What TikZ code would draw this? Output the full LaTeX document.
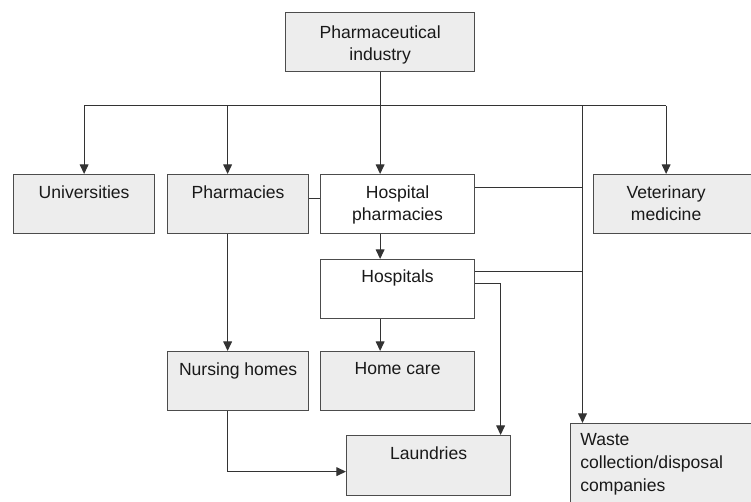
\documentclass[tikz,border=0pt]{standalone}
\usepackage{fontspec}
\setmainfont{Liberation Sans}
\usetikzlibrary{arrows.meta}
\tikzstyle{entity} = [rectangle, anchor=north west, inner sep=0pt, minimum height=1.18cm, draw=black!70, fill=black!7, line width=0.7pt]
\tikzstyle{hospital} = [entity, fill=white]
\tikzstyle{txt} = [anchor=north, inner sep=0pt, yshift=-0.22cm, align=center, font=\fontsize{10pt}{13pt}\selectfont, text=black!90]
\tikzstyle{line} = [line width=0.7pt, draw=black!80]
\tikzstyle{arrow} = [line, -{Triangle[length=5.5pt,width=5pt]}]

\begin{document}
\begin{tikzpicture}
            \useasboundingbox (0,0) rectangle (15.02,-10.02);
            \node (pharma) [entity, minimum width=3.78cm, label={[txt, yshift=-0.04cm]north:{Pharmaceutical\\industry}}] at (5.70,-0.24) {};
            \node (univ) [entity, minimum width=2.82cm, label={[txt]north:Universities}] at (0.26,-3.48) {};
            \node (pharmacies) [entity, minimum width=2.82cm, label={[txt]north:Pharmacies}] at (3.34,-3.48) {};
            \node (hosppharm) [hospital, minimum width=3.08cm, label={[txt]north:{Hospital\\pharmacies}}] at (6.40,-3.48) {};
            \node (vet) [entity, minimum width=3.3cm, label={[txt, xshift=-0.2cm]north:{Veterinary\\medicine}}] at (11.86,-3.48) {};
            \node (hospitals) [hospital, minimum width=3.08cm, label={[txt, yshift=0.02cm]north:Hospitals}] at (6.40,-5.18) {};
            \node (nursing) [entity, minimum width=2.82cm, label={[txt]north:Nursing homes}] at (3.34,-7.02) {};
            \node (homecare) [entity, minimum width=3.08cm, label={[txt]north:Home care}] at (6.40,-7.02) {};
            \node (laundries) [entity, minimum width=3.28cm, minimum height=1.2cm, label={[txt]north:Laundries}] at (6.92,-8.70) {};
            \node (waste) [entity, minimum width=3.7cm, minimum height=1.8cm, label={[txt, anchor=north west, xshift=0.2cm, yshift=0.02cm, align=left]north west:{Waste\\collection/disposal\\companies}}] at (11.40,-8.46) {};

            % distribution bus
            \coordinate (bus) at (7.59,-2.11);
            \coordinate (disp) at (11.65,-2.11);
            \coordinate (pharmin) at ([xshift=-0.21cm]pharmacies.north);
            \coordinate (vetin) at ([xshift=-0.2cm]vet.north);
            \draw[line] (bus -| univ.north) -- (bus -| vetin);
            \draw[arrow] (pharma.south) -- (pharma.south |- hosppharm.north);
            \draw[arrow] (bus -| univ.north) -- (univ.north);
            \draw[arrow] (bus -| pharmin) -- (pharmin);
            \draw[arrow] (bus -| vetin) -- (vetin);
            \draw[arrow] (disp) -- (disp |- waste.north);

            \draw[line] ([yshift=0.11cm]pharmacies.east) -- ([yshift=0.11cm]hosppharm.west);
            \draw[line] ([yshift=0.33cm]hosppharm.east) -- ([yshift=0.33cm]hosppharm.east -| disp);
            \draw[line] ([yshift=0.35cm]hospitals.east) -- ([yshift=0.35cm]hospitals.east -| disp);
            \draw[arrow] (pharma.south |- hosppharm.south) -- (pharma.south |- hospitals.north);
            \draw[arrow] (pharma.south |- hospitals.south) -- (pharma.south |- homecare.north);
            \draw[arrow] ([yshift=0.11cm]hospitals.east) -| ([xshift=1.44cm]laundries.north);
            \draw[arrow] ([xshift=-0.21cm]pharmacies.south) -- ([xshift=-0.21cm]nursing.north);
            \draw[arrow] ([xshift=-0.21cm]nursing.south) |- ([yshift=-0.12cm]laundries.west);
        \end{tikzpicture}
\end{document}
